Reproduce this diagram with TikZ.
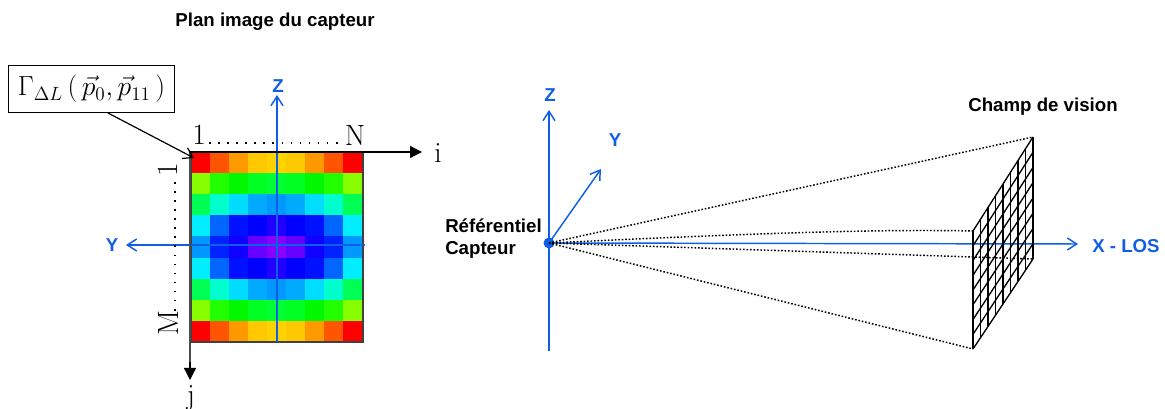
\documentclass[tikz,border=0pt]{standalone}
\usepackage{fontspec}
\setsansfont{Liberation Sans}
\usetikzlibrary{arrows.meta,calc}
\definecolor{axblue}{HTML}{0F5FE6}
\tikzset{
  px/.style={x=0.75pt,y=-0.75pt},
  axis/.style={axblue,line width=1.1pt},
  axarrow/.style={axis,-{Straight Barb[length=7pt,width=9pt,line width=1.1pt]}},
  blacktip/.style={-{Triangle[length=9pt,width=9pt]},line width=1pt},
  dots/.style={black,line width=1.1pt,dash pattern=on 1.2pt off 1.4pt},
  sparse/.style={black,line width=1.3pt,dash pattern=on 1.2pt off 5.6pt},
  bluelab/.style={text=axblue,font=\sffamily\bfseries\fontsize{14pt}{16pt}\selectfont,inner sep=0pt},
  blacklab/.style={text=black,font=\sffamily\bfseries\fontsize{14pt}{16pt}\selectfont,inner sep=0pt},
  serif/.style={text=black,font=\fontsize{22pt}{24pt}\selectfont,inner sep=0pt},
  gridline/.style={black,line width=1pt}
}
\begin{document}
\begin{tikzpicture}[px]
\useasboundingbox (0,0) rectangle (1165,409);
% heat map
\def\cw{19.05}\def\ch{21.11}
\newcommand{\cellrow}[6]{%
  \foreach \c [count=\k from 0] in {#2,#3,#4,#5,#6,#5,#4,#3,#2}{%
    \definecolor{cc}{HTML}{\c}%
    \fill[cc] ({191+\k*\cw},{152+#1*\ch}) rectangle ({191+(\k+1)*\cw+0.3},{152+(#1+1)*\ch+0.3});
  }}
\cellrow{0}{FF0000}{FF5500}{FF9900}{FFC800}{FFD200}
\cellrow{1}{88FF00}{22FF00}{00F800}{00FF22}{00FF33}
\cellrow{2}{00FF55}{00FFCC}{00DDFF}{00AAFF}{0099FF}
\cellrow{3}{00EEFF}{0066FF}{0011FF}{0000FF}{2200FF}
\cellrow{4}{0099FF}{0022FF}{1100FF}{6600FF}{8800FF}
\cellrow{5}{00EEFF}{0066FF}{0011FF}{0000FF}{2200FF}
\cellrow{6}{00FF55}{00FFCC}{00DDFF}{00AAFF}{0099FF}
\cellrow{7}{88FF00}{22FF00}{00F800}{00FF22}{00FF33}
\cellrow{8}{FF0000}{FF5500}{FF9900}{FFC800}{FFD200}
\draw[black!75,line width=0.9pt] (191,152) rectangle (363,342);
% named points
\coordinate (mo) at (190,152);
\coordinate (mi) at (422,152);
\coordinate (mj) at (190,380);
\coordinate (mzt) at (277,95);
\coordinate (mzb) at (277,342);
\coordinate (myr) at (365,245);
\coordinate (myl) at (126,245);
\coordinate (mtip) at (194,158);
\draw[axarrow] (mzb) -- (mzt);
\draw[axarrow] (myr) -- (myl);
\draw[black,blacktip] (mo) -- (mi);
\draw[black!70,line width=1pt] (mo) -- (190,362);
\draw[black,-{Triangle[length=9pt,width=9pt]},line width=1pt] (190,362) -- (mj);
% labels of map
\node[blacklab] (titre) at (275,22) {Plan image du capteur};
\node[draw=black,line width=0.8pt,fill=white,inner sep=0pt,minimum width=124pt,minimum height=35pt,text=black] (gam) at (91.5,89)
  {\fontsize{21.5pt}{24pt}\selectfont $\Gamma_{\Delta L}\left(\,\vec p_0,\vec p_{11}\,\right)$};
\draw[black,line width=0.9pt,-{Straight Barb[length=7pt,width=9pt,line width=0.9pt]}] (108,113) -- (mtip);
\node[bluelab] (lz) at (278,86) {Z};
\node[bluelab] (ly) at (112,245) {Y};
\node[serif] (li) at (438,153) {i};
\node[serif] (lj) at (191,398) {j};
\node[serif,rotate=90] (l1a) at (168,170) {1};
\node[serif,rotate=90] (lM) at (168,323) {M};
\node[serif] (l1b) at (199,135) {1};
\node[serif] (lN) at (355,135) {N};
\draw[sparse] (209,143) -- (343,143);
\draw[sparse] (175,182) -- (175,312);
% right: frame
\coordinate (o) at (549,243);
\coordinate (zt) at (549,110);
\coordinate (zb) at (549,351);
\coordinate (xt) at (1078,244);
\coordinate (yt) at (601,169);
\coordinate (ga) at (973,231);
\coordinate (gb) at (1033,137);
\coordinate (gc) at (973,349);
\coordinate (gd) at (1033,259);
\draw[axarrow] (zb) -- (zt);
\draw[axarrow] (o) -- (yt);
\draw[axarrow] (o) -- (xt);
\fill[axblue] (o) circle (5.5);
\draw[dots] (o) -- (gb);
\draw[dots] (o) .. controls (760,233) and (880,229) .. (ga);
\draw[dots] (o) -- (gd);
\draw[dots] (o) -- (gc);
% grid
\foreach \t in {0,0.125,...,1.01}{
  \draw[gridline] ($(ga)!\t!(gb)$) -- ($(gc)!\t!(gd)$);
  \draw[gridline] ($(ga)!\t!(gc)$) -- ($(gb)!\t!(gd)$);
}
\node[bluelab] (lz2) at (550,95) {Z};
\node[bluelab] (ly2) at (615,140) {Y};
\node[bluelab,anchor=west] (lx) at (1092,246) {X - LOS};
\node[blacklab] (lch) at (1043,107) {Champ de vision};
\node[blacklab,anchor=west] (lr) at (445,226) {Référentiel};
\node[blacklab,anchor=west] (lc) at (445,250) {Capteur};
\end{tikzpicture}
\end{document}
